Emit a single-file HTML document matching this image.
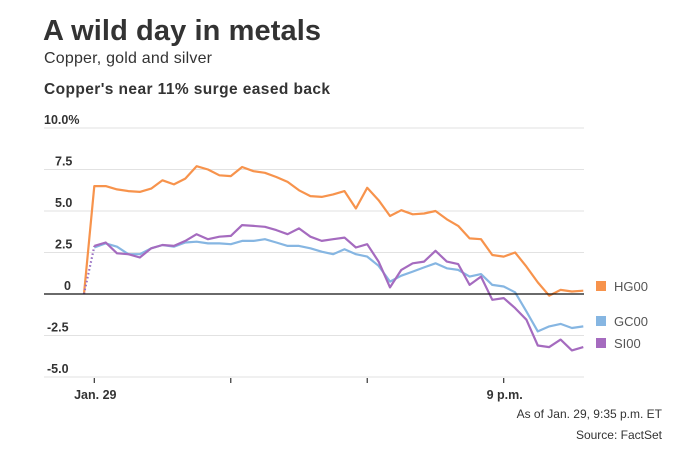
<!DOCTYPE html>
<html><head><meta charset="utf-8">
<style>
body{margin:0;background:#fff;width:685px;height:450px;overflow:hidden;font-family:"Liberation Sans",sans-serif;color:#333;}
svg{position:absolute;left:0;top:0;}
</style></head>
<body>
<svg id="chart" width="685" height="450">
<text x="43" y="40" font-size="29" font-weight="bold" fill="#333" textLength="278">A wild day in metals</text>
<text x="44" y="63" font-size="16" fill="#333" textLength="168">Copper, gold and silver</text>
<text x="44" y="94" font-size="15.5" font-weight="bold" fill="#333" textLength="286">Copper's near 11% surge eased back</text>
<text x="662" y="418" font-size="12" text-anchor="end" fill="#333">As of Jan. 29, 9:35 p.m. ET</text>
<text x="662" y="439" font-size="12" text-anchor="end" fill="#333">Source: FactSet</text>
<g id="grid"></g><g id="series"></g><g id="legend"></g>
</svg>
<script>
const yTicks=[10,7.5,5,2.5,0,-2.5,-5];
const yTickLabels=["10.0%","7.5","5.0","2.5","0","-2.5","-5.0"];
const xTickLabels=["Jan. 29","","","9 p.m."];
const xTickIdx=[1,13,25,37];
const seriesNames=["HG00","GC00","SI00"];
const copper=[0,6.5,6.5,6.3,6.2,6.15,6.35,6.85,6.6,6.95,7.7,7.5,7.15,7.1,7.65,7.4,7.3,7.05,6.75,6.25,5.9,5.85,6.0,6.2,5.15,6.4,5.65,4.7,5.05,4.8,4.85,5.0,4.5,4.1,3.35,3.3,2.35,2.25,2.5,1.65,0.7,-0.1,0.25,0.15,0.2];
const gold=[0,2.8,3.05,2.85,2.4,2.4,2.75,2.95,2.85,3.1,3.15,3.05,3.05,3.0,3.2,3.2,3.3,3.1,2.9,2.9,2.75,2.55,2.4,2.7,2.4,2.25,1.7,0.75,1.1,1.35,1.6,1.85,1.55,1.45,1.05,1.2,0.55,0.45,0.1,-1.05,-2.25,-1.95,-1.8,-2.05,-1.95];
const silver=[0,2.9,3.1,2.45,2.4,2.2,2.75,2.95,2.9,3.2,3.6,3.3,3.45,3.5,4.15,4.1,4.05,3.85,3.6,3.95,3.45,3.2,3.3,3.4,2.8,3.0,1.95,0.4,1.45,1.85,1.95,2.6,1.95,1.8,0.55,1.05,-0.35,-0.25,-0.85,-1.55,-3.1,-3.2,-2.75,-3.4,-3.2];
const colors=["#f7934c","#86b6e2","#a56bbf"];
const NS="http://www.w3.org/2000/svg";
const N=copper.length;
function xs(i){return i===0?84:94.3+(i-1)*(583.3-94.3)/(N-2);}
function ys(v){return 294-v*16.6;}
function mk(t,a,p){const e=document.createElementNS(NS,t);for(const k in a)e.setAttribute(k,a[k]);p.appendChild(e);return e;}
const grid=document.getElementById('grid');
yTicks.forEach((v,i)=>{
  if(v!==0){const l=mk('line',{x1:44,x2:584,y1:ys(v),y2:ys(v),stroke:'#e2e2e2','stroke-width':1},grid);
  
  }
  const t=mk('text',{x:i===0?44:(v<0?47:55),y:ys(v)-4,'font-size':12.5,'font-weight':'bold',fill:'#333'},grid);
  if(v===0)t.setAttribute('x',64);
  t.textContent=yTickLabels[i];
  
  
});
xTickIdx.forEach((idx,i)=>{
  const x=xs(idx);
  const l=mk('line',{x1:x,x2:x,y1:378,y2:383,stroke:'#333','stroke-width':1.2},grid);
  
  
  if(xTickLabels[i]){const t=mk('text',{x:x+1,y:399,'font-size':12.5,'font-weight':'bold','text-anchor':'middle',fill:'#333'},grid);
  t.textContent=xTickLabels[i];
  
  }
});
const ser=document.getElementById('series');
[copper,gold,silver].forEach((d,s)=>{
  if(s>0){const dl=mk('line',{x1:xs(0),y1:ys(d[0]),x2:xs(1),y2:ys(d[1]),stroke:colors[s],'stroke-width':2,'stroke-dasharray':'1.5,2.5'},ser);
    
    }
  let pts=[];for(let i=(s>0?1:0);i<N;i++)pts.push(xs(i).toFixed(1)+','+ys(d[i]).toFixed(1));
  const p=mk('polyline',{points:pts.join(' '),fill:'none',stroke:colors[s],'stroke-width':2.2,'stroke-linejoin':'round'},ser);
  
  
});
const z=mk('line',{x1:44,x2:584,y1:ys(0),y2:ys(0),stroke:'#111','stroke-width':1.2},ser);


const lg=document.getElementById('legend');
const ly=[286,321,343];
seriesNames.forEach((n,i)=>{
  const r=mk('rect',{x:596,y:ly[i]-5,width:10,height:10,fill:colors[i]},lg);
  
  
  const t=mk('text',{x:614,y:ly[i]+5,'font-size':13,fill:'#555'},lg);
  t.textContent=n;
  
  
});
</script>
</body></html>
